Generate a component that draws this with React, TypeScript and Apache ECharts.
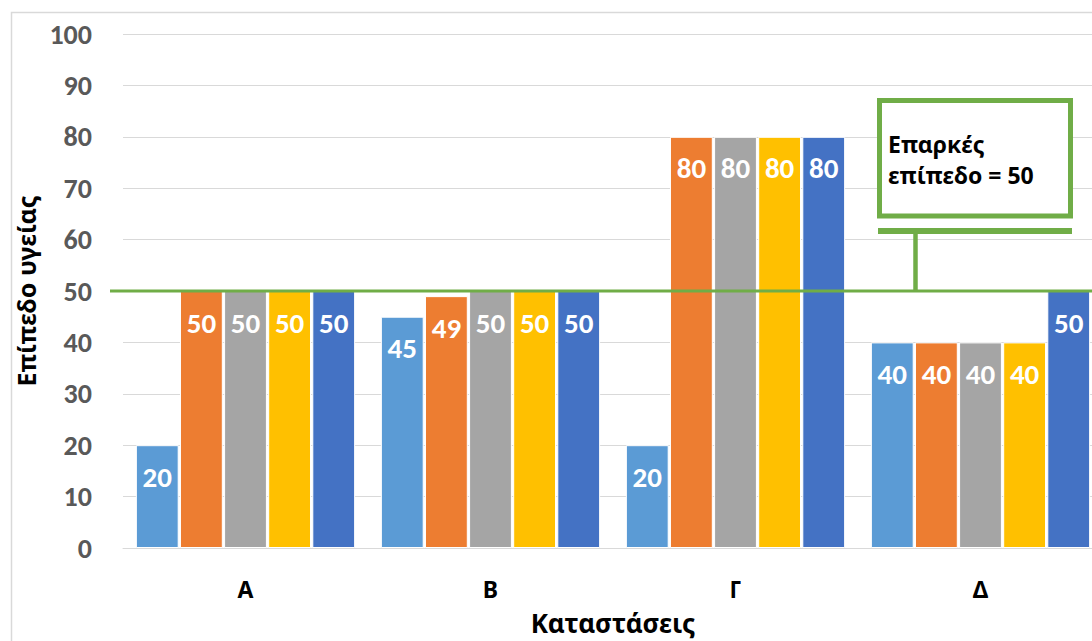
import React, { useEffect, useRef } from "react";
import * as echarts from "echarts";

// Health level per situation, one list per series
const categories = ["A", "B", "Γ", "Δ"];
const series1 = [20, 45, 20, 40];
const series2 = [50, 49, 80, 40];
const series3 = [50, 50, 80, 40];
const series4 = [50, 50, 80, 40];
const series5 = [50, 50, 80, 50];
const seriesColors = ["#5B9BD5", "#ED7D31", "#A5A5A5", "#FFC000", "#4472C4"];
const yTicks = { min: 0, max: 100, interval: 10 };
const thresholdValue = 50;
const calloutLines = ["Επαρκές", "επίπεδο = 50"];

const NUM_FONT = "Carlito, Lato, 'Noto Sans', sans-serif";
const TEXT_FONT = "'Noto Sans', 'Open Sans', sans-serif";
const GREEN = "#70AD47";

export default function App() {
  const ref = useRef<HTMLDivElement>(null);

  useEffect(() => {
    if (!ref.current) return;
    const chart = echarts.init(ref.current, undefined, { renderer: "svg" });
    const all = [series1, series2, series3, series4, series5];

    chart.setOption({
      animation: false,
      backgroundColor: "#ffffff",
      grid: { left: 123, right: 12, top: 34, bottom: 92 },
      xAxis: {
        type: "category",
        data: categories,
        axisLine: { show: true, lineStyle: { color: "#D9D9D9", width: 1 } },
        axisTick: { show: false },
        axisLabel: {
          margin: 29,
          color: "#000000",
          fontWeight: "bold",
          fontSize: 23,
          fontFamily: TEXT_FONT,
        },
        name: "Καταστάσεις",
        nameLocation: "middle",
        nameGap: 62,
        nameTextStyle: {
          color: "#000000",
          fontWeight: "bold",
          fontSize: 26,
          fontFamily: TEXT_FONT,
        },
      },
      yAxis: {
        type: "value",
        min: yTicks.min,
        max: yTicks.max,
        interval: yTicks.interval,
        axisLine: { show: false },
        axisTick: { show: false },
        splitLine: { lineStyle: { color: "#D9D9D9", width: 1 } },
        axisLabel: {
          margin: 31,
          color: "#595959",
          fontWeight: "bold",
          fontSize: 28,
          fontFamily: NUM_FONT,
        },
        name: "Επίπεδο υγείας",
        nameLocation: "middle",
        nameGap: 77,
        nameRotate: 90,
        nameTextStyle: {
          color: "#000000",
          fontWeight: "bold",
          fontSize: 25,
          fontFamily: TEXT_FONT,
        },
      },
      series: all.map((data, i) => ({
        type: "bar",
        name: `Σειρά ${i + 1}`,
        data,
        barGap: "3%",
        barCategoryGap: "10.5%",
        itemStyle: {
          color: seriesColors[i],
          borderColor: "#ffffff",
          borderWidth: 1,
        },
        label: {
          show: true,
          position: "insideTop",
          distance: 17,
          color: "#ffffff",
          fontWeight: "bold",
          fontSize: 29,
          fontFamily: NUM_FONT,
        },
      })),
    });

    // Threshold line and callout, placed at the axis position of the threshold value
    const yLine = chart.convertToPixel({ yAxisIndex: 0 }, thresholdValue) as number;
    const width = chart.getWidth();
    chart.setOption({
      graphic: [
        {
          type: "rect",
          silent: true,
          shape: { x: 11.5, y: 12.5, width: width + 50, height: 700 },
          style: { fill: "none", stroke: "#D9D9D9", lineWidth: 1.5 },
        },
        {
          type: "line",
          silent: true,
          z: 100,
          shape: { x1: 110, y1: yLine, x2: width, y2: yLine },
          style: { stroke: GREEN, lineWidth: 3 },
        },
        {
          type: "line",
          silent: true,
          z: 100,
          shape: { x1: 915.5, y1: 233, x2: 915.5, y2: yLine },
          style: { stroke: GREEN, lineWidth: 4.5 },
        },
        {
          type: "rect",
          silent: true,
          z: 100,
          shape: { x: 878, y: 228, width: 194, height: 6 },
          style: { fill: GREEN },
        },
        {
          type: "rect",
          silent: true,
          z: 100,
          shape: { x: 879.5, y: 100.5, width: 191, height: 115.5 },
          style: { fill: "#ffffff", stroke: GREEN, lineWidth: 5 },
        },
        {
          type: "text",
          silent: true,
          z: 101,
          x: 888,
          y: 128,
          style: {
            text: calloutLines.join("\n"),
            fill: "#000000",
            font: `bold 23px ${TEXT_FONT}`,
            lineHeight: 31,
          },
        },
      ],
    });

    return () => chart.dispose();
  }, []);

  return (
    <div
      style={{
        position: "fixed",
        left: 0,
        top: 0,
        width: 1092,
        height: 641,
        overflow: "hidden",
        background: "#ffffff",
      }}
    >
      <div ref={ref} style={{ width: 1115, height: 641 }} />
    </div>
  );
}
